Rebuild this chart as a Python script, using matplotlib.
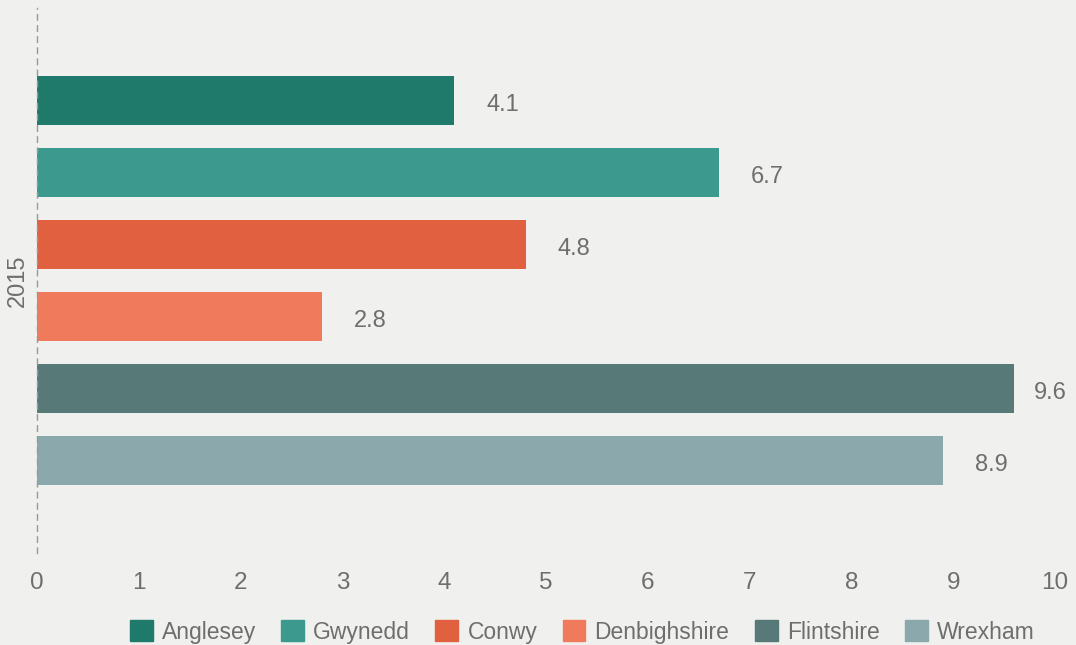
import matplotlib.pyplot as plt
from matplotlib.patches import Patch

# data
year = "2015"
counties = ["Anglesey", "Gwynedd", "Conwy", "Denbighshire", "Flintshire", "Wrexham"]
values = [4.1, 6.7, 4.8, 2.8, 9.6, 8.9]
colors = ["#1f7a6b", "#3b9a8d", "#e0603f", "#f07b5c", "#577a79", "#8ba8ad"]
x_ticks = [0, 1, 2, 3, 4, 5, 6, 7, 8, 9, 10]

plt.rcParams['font.family'] = ['Liberation Sans', 'DejaVu Sans']
text_col = "#6e6e6e"
bg = "#f0f0ee"

fig = plt.figure(figsize=(10.76, 6.45), dpi=100, facecolor=bg)
ax = fig.add_axes([37 / 1076, 1 - 553 / 645, 1018 / 1076, 545 / 645])
ax.set_facecolor(bg)

positions = list(range(len(counties)))
for pos, name, val, col in zip(positions, counties, values, colors):
    ax.barh(pos, val, height=0.69, color=col, label=name)
    # labels near the right edge get pulled in so they stay on the canvas
    pad = 14 if val > 9.4 else 23
    ax.annotate(f"{val}", (val, pos), xytext=(pad, -3), textcoords="offset points",
                va="center", ha="left", fontsize=17, color=text_col)

ax.set_xlim(0, 10)
ax.set_ylim(6.285, -1.285)
ax.set_xticks(x_ticks)
ax.set_xticklabels([str(t) for t in x_ticks], fontsize=17.5, color=text_col)
ax.tick_params(axis="x", length=0, pad=14)
ax.set_yticks([2.5])
ax.set_yticklabels([year], rotation=90, va="center", fontsize=17, color=text_col)
ax.tick_params(axis="y", length=0, pad=6)

for side in ["top", "right", "bottom"]:
    ax.spines[side].set_visible(False)
ax.spines["left"].set_linestyle((0, (4, 4)))
ax.spines["left"].set_color("#999999")
ax.spines["left"].set_linewidth(1)

handles = [Patch(color=c, label=n) for n, c in zip(counties, colors)]
fig.legend(handles=handles, loc="center", bbox_to_anchor=(0.541, 1 - 632 / 645),
           ncol=6, frameon=False, fontsize=16.5, handlelength=1.0, handleheight=1.0,
           handletextpad=0.4, columnspacing=1.1, labelcolor=text_col)

fig.savefig("out.png", dpi=100, facecolor=bg)
